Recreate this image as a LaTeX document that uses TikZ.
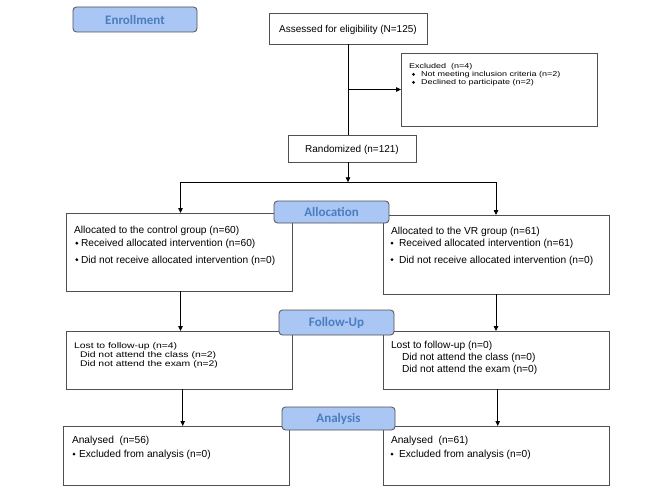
\documentclass[tikz,border=0pt]{standalone}
\usepackage{graphicx}
\usepackage{fontspec}
\setmainfont{Liberation Sans}
\newfontfamily\lblfont{Carlito}
\usetikzlibrary{arrows.meta,shapes.geometric}
\definecolor{lblfill}{HTML}{A9C6F5}
\definecolor{lbltext}{HTML}{4A7EBF}
\definecolor{boxline}{HTML}{505050}
\newcommand{\squash}[1]{\scalebox{1}[0.78]{#1}}
\begin{document}
\begin{tikzpicture}[x=1pt,y=-1pt,
  box/.style={draw=boxline, line width=0.8pt, fill=white, inner sep=0pt, outer sep=0pt},
  lbl/.style={draw=boxline, line width=0.8pt, fill=lblfill, rounded corners=3.5pt, inner sep=0pt, outer sep=0pt,
    text=lbltext, font=\lblfont\bfseries\fontsize{13}{15}\selectfont},
  txt/.style={anchor=base west, inner sep=0pt, outer sep=0pt, font=\fontsize{10.2}{11}\selectfont},
  stxt/.style={anchor=base west, inner sep=0pt, outer sep=0pt, font=\fontsize{9}{10}\selectfont},
  ltxt/.style={anchor=base west, inner sep=0pt, outer sep=0pt, font=\fontsize{10.4}{11}\selectfont},
  ctxt/.style={anchor=base, inner sep=0pt, outer sep=0pt, font=\fontsize{10}{11}\selectfont},
  bul/.style={diamond, fill=black, inner sep=0pt, minimum size=3.2pt},
  conn/.style={draw=black, line width=0.8pt},
  arr/.style={conn, -{Triangle[length=5pt,width=4.5pt]}}]
\useasboundingbox (0,0) rectangle (666,492);
\fill[white] (0,0) rectangle (666,492);

% boxes
\node[box, minimum width=158pt, minimum height=31pt] (assess) at (348,28.5) {};
\node[box, minimum width=196pt, minimum height=73pt] (excl) at (499,89.5) {};
\node[box, minimum width=128pt, minimum height=27pt] (rand) at (352,148.5) {};
\node[box, minimum width=226pt, minimum height=78pt] (ctrl) at (179,252) {};
\node[box, minimum width=226pt, minimum height=79pt] (vr) at (496,254.5) {};
\node[box, minimum width=226pt, minimum height=58pt] (fuL) at (179,360) {};
\node[box, minimum width=226pt, minimum height=58pt] (fuR) at (496,360) {};
\node[box, minimum width=226pt, minimum height=59pt] (anL) at (176,455.5) {};
\node[box, minimum width=226pt, minimum height=59pt] (anR) at (496,455.5) {};

% texts
\node[ctxt] (tassess) at (assess.center) [yshift=-3.6pt] {Assessed for eligibility (N=125)};
\node[ctxt] (trand) at (rand.center) [yshift=-3.6pt] {Randomized (n=121)};

\node[stxt] (tex1) at (409,68.5) {\squash{Excluded\ \ (n=4)}};
\node[bul] (bex2) at (413.5,74.3) {};
\node[stxt] (tex2) at (421,76.5) {\squash{Not meeting inclusion criteria (n=2)}};
\node[bul] (bex3) at (413.5,82.3) {};
\node[stxt] (tex3) at (421,84.5) {\squash{Declined to participate (n=2)}};

\node[txt] (tc1) at (74,233) {Allocated to the control group (n=60)};
\node[bul] (bc2) at (76.8,243.2) {};
\node[txt] (tc2) at (81,246.5) {Received allocated intervention (n=60)};
\node[bul] (bc3) at (76.8,259.7) {};
\node[txt] (tc3) at (81,263) {Did not receive allocated intervention (n=0)};

\node[txt] (tv1) at (391,234) {Allocated to the VR group (n=61)};
\node[bul] (bv2) at (392,243.2) {};
\node[txt] (tv2) at (399,246.5) {Received allocated intervention (n=61)};
\node[bul] (bv3) at (392,259.7) {};
\node[txt] (tv3) at (399,263) {Did not receive allocated intervention (n=0)};

\node[ltxt] (tfl1) at (74,348.5) {\squash{Lost to follow-up (n=4)}};
\node[ltxt] (tfl2) at (80,357.5) {\squash{Did not attend the class (n=2)}};
\node[ltxt] (tfl3) at (80,366.5) {\squash{Did not attend the exam (n=2)}};

\node[txt] (tfr1) at (391,348.5) {Lost to follow-up (n=0)};
\node[txt] (tfr2) at (402,360.5) {Did not attend the class (n=0)};
\node[txt] (tfr3) at (402,372.5) {Did not attend the exam (n=0)};

\node[txt] (tal1) at (72,443.5) {Analysed\ \ (n=56)};
\node[bul] (bal2) at (74,454.2) {};
\node[txt] (tal2) at (79,457.5) {Excluded from analysis (n=0)};

\node[txt] (tar1) at (391,443.5) {Analysed\ \ (n=61)};
\node[bul] (bar2) at (392,454.2) {};
\node[txt] (tar2) at (399,457.5) {Excluded from analysis (n=0)};

% connectors
\coordinate (sL) at (180.5,182.3);
\coordinate (sR) at (496,182.3);
\draw[conn] (assess.south) -- (rand.north -| assess.south);
\draw[arr] (excl.west -| assess.south) -- (excl.west);
\draw[arr] (rand.south -| assess.south) -- (sL -| assess.south);
\draw[conn] (sL) -- (sR);
\draw[arr] (sL) -- (sL |- ctrl.north);
\draw[arr] (sR) -- (sR |- vr.north);
\draw[arr] (sL |- ctrl.south) -- (sL |- fuL.north);
\draw[arr] (vr.south) -- (fuR.north);
\draw[arr] ([xshift=3.7pt]fuL.south) -- ([xshift=3.7pt]fuL.south |- anL.north);
\draw[arr] ([xshift=1.7pt]fuR.south) -- ([xshift=1.7pt]fuR.south |- anR.north);

% stage labels
\node[lbl, minimum width=124pt, minimum height=25pt] (enr) at (135,19.5) {Enrollment};
\node[lbl, minimum width=115pt, minimum height=22pt] (alloc) at (331.5,212) {Allocation};
\node[lbl, minimum width=115pt, minimum height=25pt] (fu) at (336.5,322.5) {Follow-Up};
\node[lbl, minimum width=113pt, minimum height=23pt] (ana) at (338.5,418.5) {Analysis};
\end{tikzpicture}
\end{document}
